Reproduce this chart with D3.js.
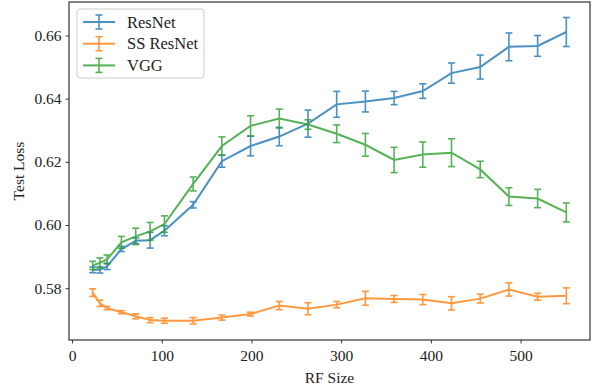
<!DOCTYPE html>
<html>
<head>
<meta charset="utf-8">
<script src="https://cdn.jsdelivr.net/npm/d3@7"></script>
<style>
    body { margin: 0; background: #fff; }
    svg text { font-family: 'Liberation Serif', 'DejaVu Serif', serif; fill: #222; }
</style>
</head>
<body>
<div id="chart"></div>
<script>
const rfSize = [23, 31, 39, 55, 71, 87, 103, 135, 167, 199, 231, 263, 295, 327, 359, 391, 423, 455, 487, 519, 551];

const resnetMean = [0.5858, 0.5858, 0.5869, 0.5924, 0.5950, 0.5952, 0.5982, 0.6064, 0.6202, 0.6250, 0.6280,
    0.6321, 0.6382, 0.6391, 0.6402, 0.6424, 0.6481, 0.6500, 0.6564, 0.6567, 0.6611];
const resnetErr = [0.0009, 0.0010, 0.0010, 0.0008, 0.0009, 0.0025, 0.0016, 0.0010, 0.0019, 0.0031, 0.0029,
    0.0043, 0.0041, 0.0033, 0.0021, 0.0023, 0.0032, 0.0038, 0.0044, 0.0033, 0.0046];

const ssResnetMean = [0.5786, 0.5752, 0.5737, 0.5724, 0.5711, 0.5699, 0.5697, 0.5697, 0.5707, 0.5718, 0.5745,
    0.5735, 0.5748, 0.5768, 0.5766, 0.5764, 0.5752, 0.5767, 0.5796, 0.5773, 0.5776];
const ssResnetErr = [0.0012, 0.0010, 0.0005, 0.0005, 0.0008, 0.0008, 0.0008, 0.0010, 0.0008, 0.0006, 0.0013,
    0.0019, 0.0010, 0.0022, 0.0011, 0.0016, 0.0021, 0.0014, 0.0021, 0.0011, 0.0025];

const vggMean = [0.5872, 0.5880, 0.5891, 0.5945, 0.5964, 0.5980, 0.6003, 0.6130, 0.6250, 0.6314, 0.6337,
    0.6318, 0.6289, 0.6254, 0.6206, 0.6223, 0.6229, 0.6176, 0.6090, 0.6084, 0.6040];
const vggErr = [0.0013, 0.0016, 0.0014, 0.0019, 0.0026, 0.0028, 0.0026, 0.0022, 0.0029, 0.0032, 0.0030,
    0.0015, 0.0028, 0.0036, 0.0040, 0.0040, 0.0044, 0.0026, 0.0028, 0.0029, 0.0030];

const xTicks = [0, 100, 200, 300, 400, 500];
const yTicks = [0.58, 0.60, 0.62, 0.64, 0.66];

const series = [
    { name: 'ResNet', color: '#1f77b4', mean: resnetMean, err: resnetErr },
    { name: 'SS ResNet', color: '#ff7f0e', mean: ssResnetMean, err: ssResnetErr },
    { name: 'VGG', color: '#2ca02c', mean: vggMean, err: vggErr },
];

const width = 594, height = 389;
const margin = { top: 2, right: 4, bottom: 49, left: 69 };
const innerW = width - margin.left - margin.right;
const innerH = height - margin.top - margin.bottom;

const svg = d3.select('#chart').append('svg')
    .attr('width', width)
    .attr('height', height);

const g = svg.append('g')
    .attr('transform', `translate(${margin.left},${margin.top})`);

const x = d3.scaleLinear().domain([-3.4, 577.4]).range([0, innerW]);
const y = d3.scaleLinear().domain([0.5636, 0.6706]).range([innerH, 0]);

const line = d3.line()
    .x((d, i) => x(rfSize[i]))
    .y(d => y(d));

const cap = 3.5;

series.forEach(s => {
    const sg = g.append('g').attr('opacity', 0.8);
    sg.append('path')
        .datum(s.mean)
        .attr('d', line)
        .attr('fill', 'none')
        .attr('stroke', s.color)
        .attr('stroke-width', 2);

    const bars = sg.selectAll('g.err')
        .data(s.mean)
        .enter()
        .append('g')
        .attr('class', 'err')
        .attr('stroke', s.color)
        .attr('stroke-width', 1.6);
    bars.append('line')
        .attr('x1', (d, i) => x(rfSize[i]))
        .attr('x2', (d, i) => x(rfSize[i]))
        .attr('y1', (d, i) => y(d - s.err[i]))
        .attr('y2', (d, i) => y(d + s.err[i]));
    bars.append('line')
        .attr('x1', (d, i) => x(rfSize[i]) - cap)
        .attr('x2', (d, i) => x(rfSize[i]) + cap)
        .attr('y1', (d, i) => y(d - s.err[i]))
        .attr('y2', (d, i) => y(d - s.err[i]));
    bars.append('line')
        .attr('x1', (d, i) => x(rfSize[i]) - cap)
        .attr('x2', (d, i) => x(rfSize[i]) + cap)
        .attr('y1', (d, i) => y(d + s.err[i]))
        .attr('y2', (d, i) => y(d + s.err[i]));
});

// axes
const xAxis = g.append('g')
    .attr('transform', `translate(0,${innerH})`)
    .call(d3.axisBottom(x).tickValues(xTicks).tickSize(3.5).tickPadding(4).tickFormat(d3.format('d')));
const yAxis = g.append('g')
    .call(d3.axisLeft(y).tickValues(yTicks).tickSize(3.5).tickPadding(4).tickFormat(d3.format('.2f')));

[xAxis, yAxis].forEach(a => {
    a.select('.domain').remove();
    a.selectAll('.tick line').attr('stroke', '#222').attr('stroke-width', 0.9);
    a.selectAll('.tick text').attr('font-size', 15.5).attr('font-family', "'Liberation Serif', serif").attr('fill', '#222');
});
xAxis.selectAll('.tick text').attr('dy', '0.85em');

g.append('rect')
    .attr('x', 0).attr('y', 0)
    .attr('width', innerW).attr('height', innerH)
    .attr('fill', 'none')
    .attr('stroke', '#333')
    .attr('stroke-width', 1.2);

svg.append('text')
    .attr('x', margin.left + innerW / 2)
    .attr('y', 383)
    .attr('text-anchor', 'middle')
    .attr('font-size', 15.5)
    .text('RF Size');

svg.append('text')
    .attr('transform', `translate(24,${margin.top + innerH / 2}) rotate(-90)`)
    .attr('text-anchor', 'middle')
    .attr('font-size', 15.5)
    .text('Test Loss');

// legend
const legend = g.append('g').attr('transform', 'translate(8,7)');
legend.append('rect')
    .attr('width', 127).attr('height', 69)
    .attr('rx', 3)
    .attr('fill', '#fff')
    .attr('fill-opacity', 0.8)
    .attr('stroke', '#ccc')
    .attr('stroke-width', 1);

series.forEach((s, i) => {
    const ly = 13 + i * 21.7;
    const lg = legend.append('g').attr('opacity', 0.8).attr('stroke', s.color);
    lg.append('line').attr('x1', 6).attr('x2', 38).attr('y1', ly).attr('y2', ly).attr('stroke-width', 2);
    lg.append('line').attr('x1', 22).attr('x2', 22).attr('y1', ly - 7).attr('y2', ly + 7).attr('stroke-width', 1.6);
    lg.append('line').attr('x1', 22 - cap).attr('x2', 22 + cap).attr('y1', ly - 7).attr('y2', ly - 7).attr('stroke-width', 1.6);
    lg.append('line').attr('x1', 22 - cap).attr('x2', 22 + cap).attr('y1', ly + 7).attr('y2', ly + 7).attr('stroke-width', 1.6);
    legend.append('text')
        .attr('x', 50)
        .attr('y', ly)
        .attr('dy', '0.35em')
        .attr('font-size', 16.5)
        .text(s.name);
});
</script>
</body>
</html>
